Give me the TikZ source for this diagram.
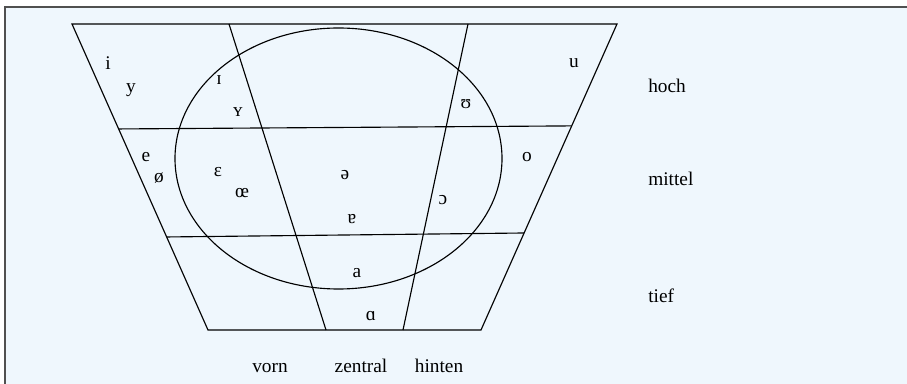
\documentclass[tikz,border=0pt]{standalone}
\usepackage{fontspec}
\setmainfont{Liberation Serif}
\usepackage{xcolor}
\usetikzlibrary{positioning,calc}

\definecolor{panelbg}{RGB}{239,247,253}
\definecolor{framegray}{RGB}{80,80,80}

\begin{document}
\begin{tikzpicture}[
    x=0.75pt,
    y=-0.75pt,
    font=\fontsize{14.5}{17}\selectfont,
    grid/.style={
        draw=black,
        line width=0.85pt
    },
    vowel/.style={
        inner sep=0pt,
        anchor=center
    },
    height/.style={
        inner sep=0pt,
        anchor=base west
    },
    place/.style={
        inner sep=0pt,
        anchor=base
    }
]

% panel
\useasboundingbox (0,0) rectangle (907,384);
\fill[white] (0,0) rectangle (907,384);
\fill[panelbg] (5,7) rectangle (907,384);
\draw[framegray, line width=1.5pt] (5,384) -- (5,7) -- (907,7);

% trapezoid corners
\coordinate (tl) at (72,24);
\coordinate (tr) at (617,24);
\coordinate (bl) at (208,330);
\coordinate (br) at (481,330);

% row borders
\coordinate (m1l) at ($(tl)!0.343!(bl)$);
\coordinate (m1r) at ($(tr)!0.333!(br)$);
\coordinate (m2l) at ($(tl)!0.696!(bl)$);
\coordinate (m2r) at ($(tr)!0.683!(br)$);

% column borders
\coordinate (c1t) at (229,24);
\coordinate (c1b) at (326,330);
\coordinate (c2t) at (468,24);
\coordinate (c2b) at (403,330);

\draw[grid] (tl) -- (tr) -- (br) -- (bl) -- cycle;
\draw[grid] (m1l) -- (m1r);
\draw[grid] (m2l) -- (m2r);
\draw[grid] (c1t) -- (c1b);
\draw[grid] (c2t) -- (c2b);

% central area
\draw[grid] (338.5,158.5) ellipse [x radius=163.5, y radius=130.5];

% vowels: hoch
\node[vowel] (v-i) at (108,63) {i};
\node[vowel] (v-y) at (131,90) {y};
\node[vowel] (v-ih) at (219,80) {ɪ};
\node[vowel] (v-yh) at (238,112) {ʏ};
\node[vowel] (v-uh) at (466,104) {ʊ};
\node[vowel] (v-u) at (574,63) {u};

% vowels: mittel
\node[vowel] (v-e) at (146,157) {e};
\node[vowel] (v-oe) at (159,178) {ø};
\node[vowel] (v-eh) at (218,172) {ɛ};
\node[vowel] (v-oeh) at (242,193) {œ};
\node[vowel] (v-schwa) at (345,175) {ə};
\node[vowel] (v-o) at (527,157) {o};
\node[vowel] (v-oh) at (443,200) {ɔ};
\node[vowel] (v-ar) at (352,219) {ɐ};

% vowels: tief
\node[vowel] (v-a) at (357,273) {a};
\node[vowel] (v-ah) at (371,316) {ɑ};

% heights
\node[height] (hoch) at (648,92.5) {hoch};
\node[height] (mittel) at (648,186) {mittel};
\node[height] (tief) at (648,303) {tief};

% places
\node[place] (vorn) at (270,373) {vorn};
\node[place] (zentral) at (361,373) {zentral};
\node[place] (hinten) at (439,373) {hinten};

\end{tikzpicture}
\end{document}
